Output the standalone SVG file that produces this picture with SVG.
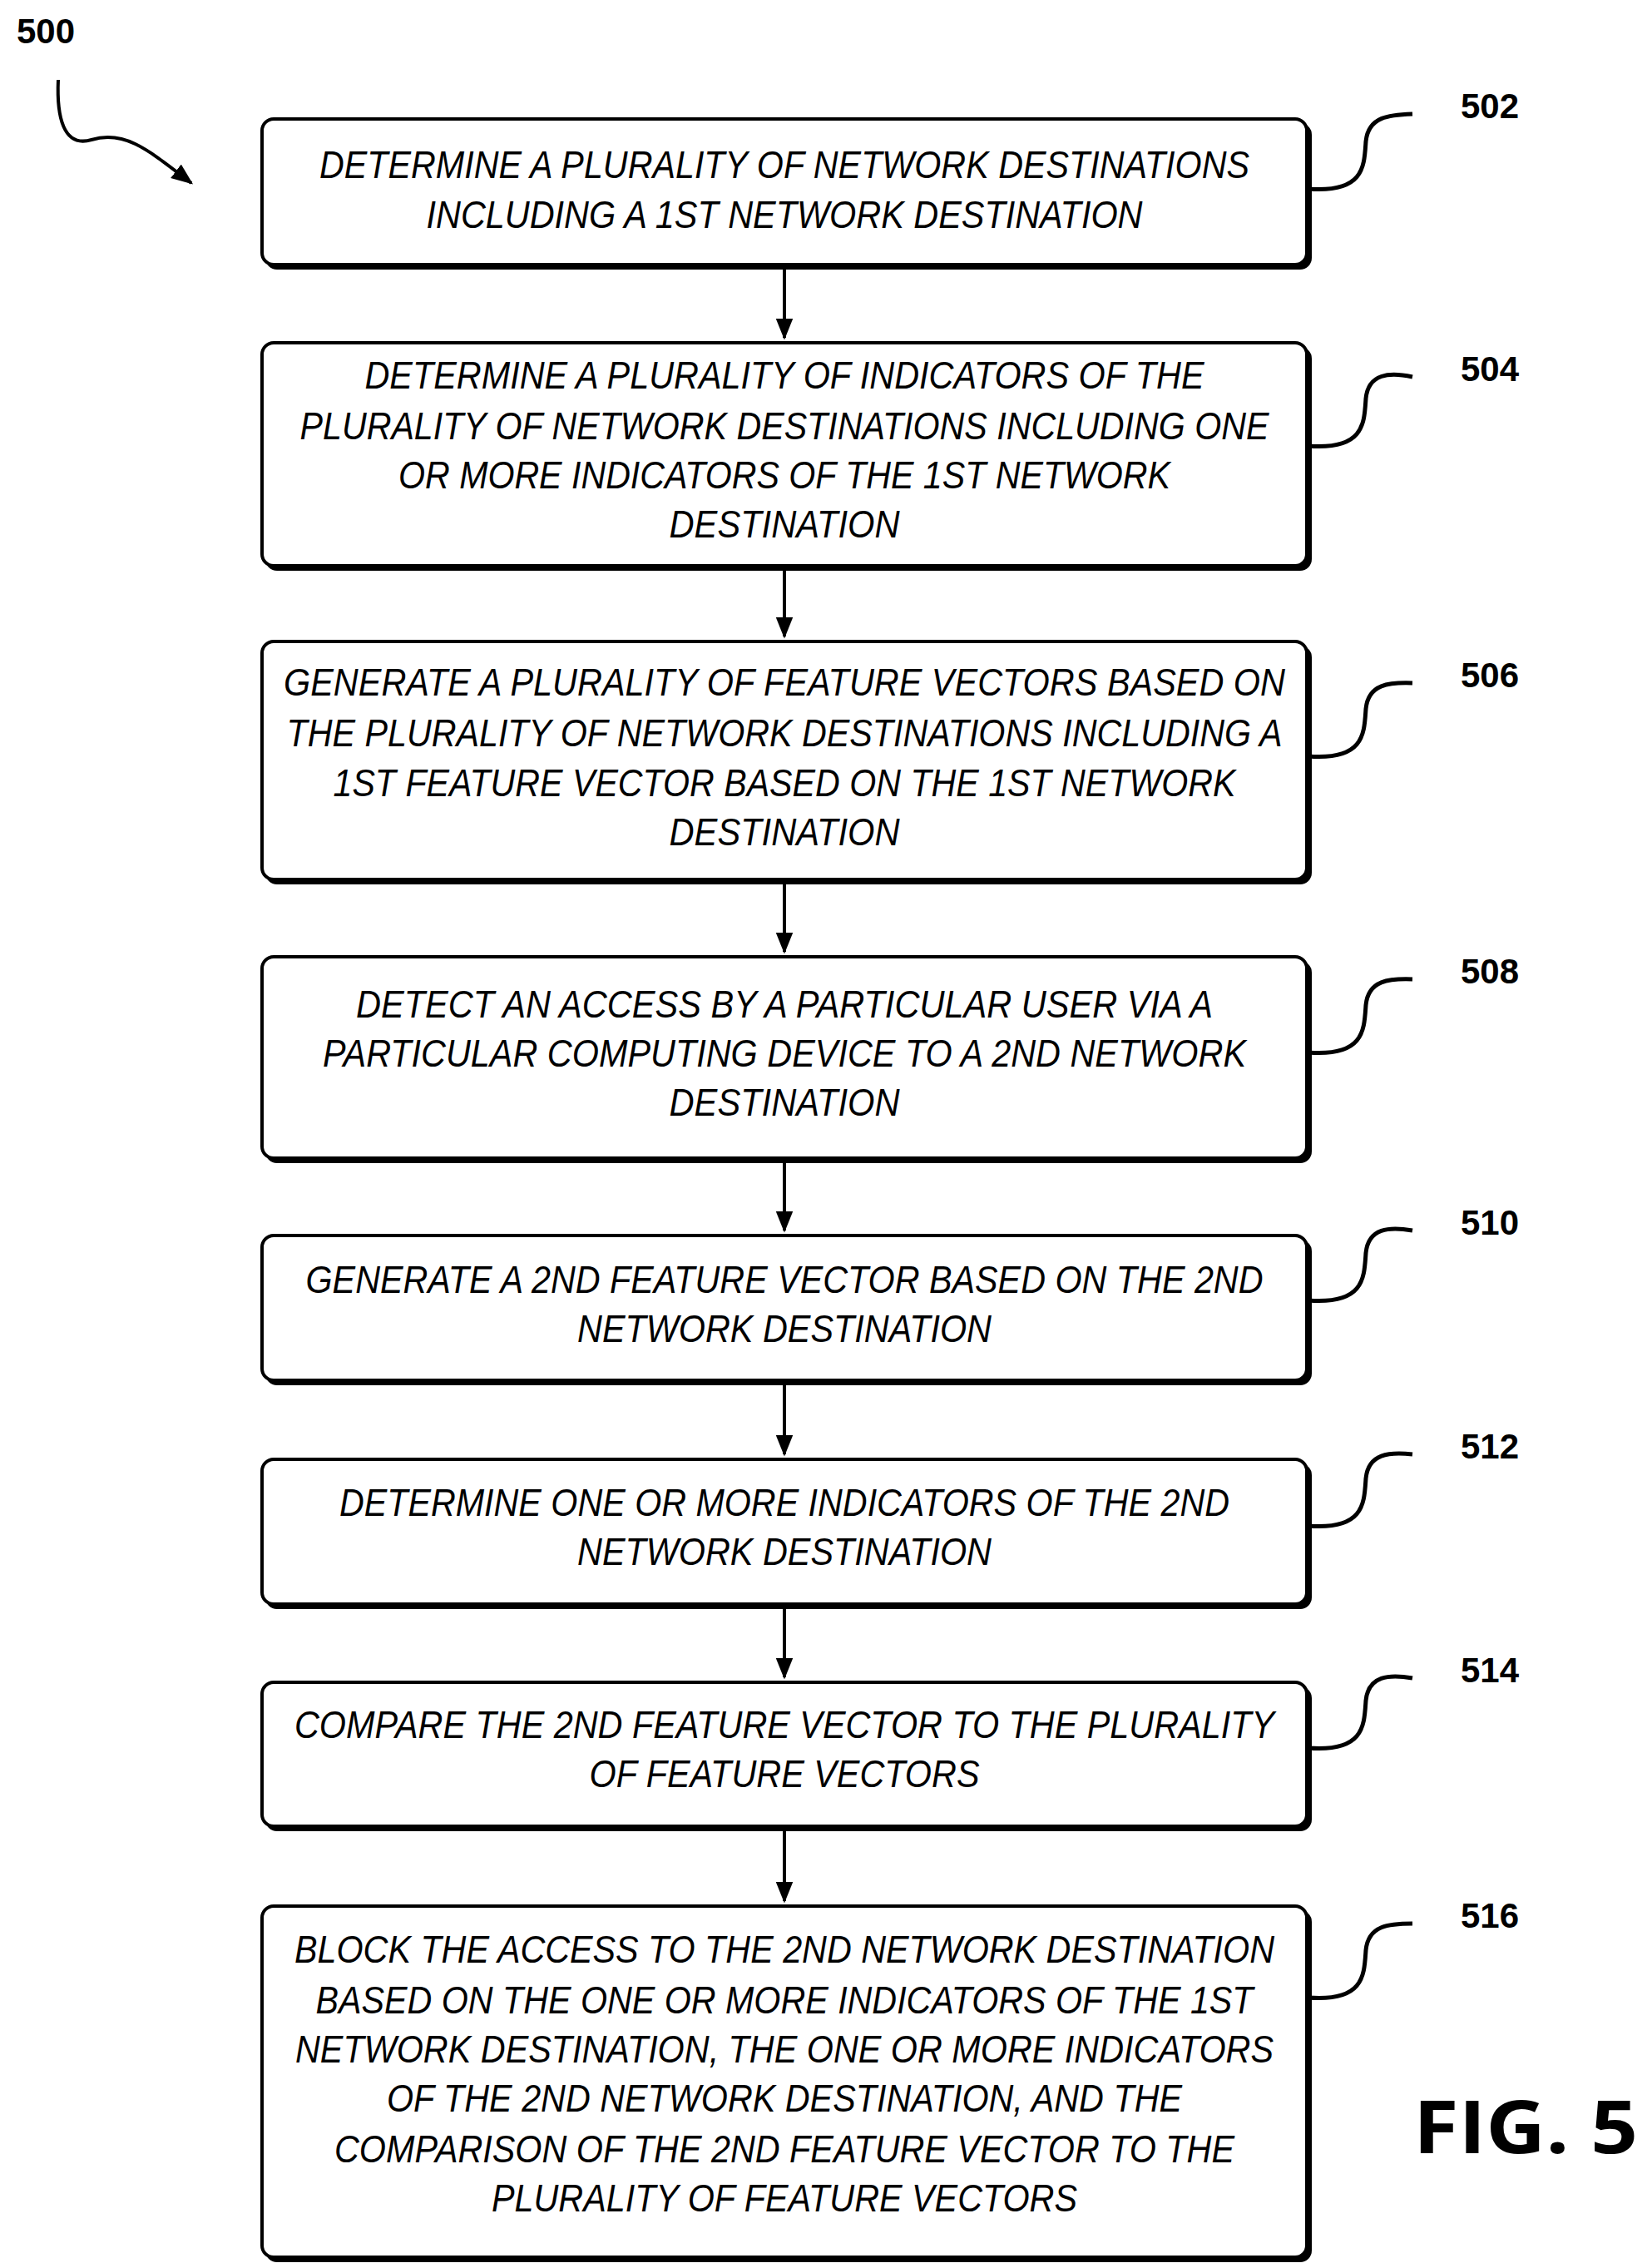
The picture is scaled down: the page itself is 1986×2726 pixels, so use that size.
<svg xmlns="http://www.w3.org/2000/svg" width="1986" height="2726" viewBox="0 0 1986 2726">
<style>
.b{fill:#fff;stroke:#000;stroke-width:4}
.s{fill:#000}
.t{font-family:"Liberation Sans",Arial,sans-serif;font-style:italic;font-size:46px;text-anchor:middle;fill:#000}
.r{font-family:"Liberation Sans",Arial,sans-serif;font-weight:bold;font-size:42px;fill:#000}
.c{fill:none;stroke:#000;stroke-width:4}
.l{fill:none;stroke:#000;stroke-width:5}
</style>
<defs>
<marker id="a" markerWidth="10" markerHeight="10" refX="9" refY="5" orient="auto" markerUnits="userSpaceOnUse" viewBox="0 0 10 10"><path d="M0,0 L10,5 L0,10 z"/></marker>
<marker id="ah" viewBox="0 0 10 10" refX="9" refY="5" markerWidth="26" markerHeight="26" orient="auto" markerUnits="userSpaceOnUse"><path d="M0,1 L10,5 L0,9 z"/></marker>
</defs>
<text class="r" x="20" y="52">500</text>
<path class="c" d="M70,96 C68,140 76,178 110,168 C150,156 178,180 230,220" marker-end="url(#ah)"/>
<g id="connectors">
<path class="c" d="M943,320 V406" marker-end="url(#ah)"/>
<path class="c" d="M943,682 V765" marker-end="url(#ah)"/>
<path class="c" d="M943,1059 V1144" marker-end="url(#ah)"/>
<path class="c" d="M943,1394 V1479" marker-end="url(#ah)"/>
<path class="c" d="M943,1661 V1748" marker-end="url(#ah)"/>
<path class="c" d="M943,1930 V2016" marker-end="url(#ah)"/>
<path class="c" d="M943,2197 V2285" marker-end="url(#ah)"/>
</g>
<g id="n502">
<rect class="s" x="319" y="148" width="1258" height="176" rx="14"/>
<rect class="b" x="315" y="143" width="1256" height="175" rx="14"/>
<text class="t" x="943" y="214" textLength="1118" lengthAdjust="spacingAndGlyphs">DETERMINE A PLURALITY OF NETWORK DESTINATIONS</text>
<text class="t" x="943" y="274" textLength="861" lengthAdjust="spacingAndGlyphs">INCLUDING A 1ST NETWORK DESTINATION</text>
<path class="l" d="M1573,227 C1640,232 1640,200 1642,170 C1645,140 1670,138 1698,137"/>
<text class="r" x="1756" y="142">502</text>
</g>
<g id="n504">
<rect class="s" x="319" y="417" width="1258" height="269" rx="14"/>
<rect class="b" x="315" y="412" width="1256" height="268" rx="14"/>
<text class="t" x="943" y="467" textLength="1009" lengthAdjust="spacingAndGlyphs">DETERMINE A PLURALITY OF INDICATORS OF THE</text>
<text class="t" x="943" y="528" textLength="1165" lengthAdjust="spacingAndGlyphs">PLURALITY OF NETWORK DESTINATIONS INCLUDING ONE</text>
<text class="t" x="943" y="587" textLength="928" lengthAdjust="spacingAndGlyphs">OR MORE INDICATORS OF THE 1ST NETWORK</text>
<text class="t" x="943" y="646" textLength="277" lengthAdjust="spacingAndGlyphs">DESTINATION</text>
<path class="l" d="M1573,536 C1640,541 1640,509 1642,479 C1645,449 1670,447 1698,453"/>
<text class="r" x="1756" y="458">504</text>
</g>
<g id="n506">
<rect class="s" x="319" y="776" width="1258" height="287" rx="14"/>
<rect class="b" x="315" y="771" width="1256" height="286" rx="14"/>
<text class="t" x="943" y="836" textLength="1204" lengthAdjust="spacingAndGlyphs">GENERATE A PLURALITY OF FEATURE VECTORS BASED ON</text>
<text class="t" x="943" y="897" textLength="1197" lengthAdjust="spacingAndGlyphs">THE PLURALITY OF NETWORK DESTINATIONS INCLUDING A</text>
<text class="t" x="943" y="957" textLength="1085" lengthAdjust="spacingAndGlyphs">1ST FEATURE VECTOR BASED ON THE 1ST NETWORK</text>
<text class="t" x="943" y="1016" textLength="277" lengthAdjust="spacingAndGlyphs">DESTINATION</text>
<path class="l" d="M1573,909 C1640,914 1640,882 1642,852 C1645,822 1670,820 1698,821"/>
<text class="r" x="1756" y="826">506</text>
</g>
<g id="n508">
<rect class="s" x="319" y="1155" width="1258" height="243" rx="14"/>
<rect class="b" x="315" y="1150" width="1256" height="242" rx="14"/>
<text class="t" x="943" y="1223" textLength="1030" lengthAdjust="spacingAndGlyphs">DETECT AN ACCESS BY A PARTICULAR USER VIA A</text>
<text class="t" x="943" y="1282" textLength="1110" lengthAdjust="spacingAndGlyphs">PARTICULAR COMPUTING DEVICE TO A 2ND NETWORK</text>
<text class="t" x="943" y="1341" textLength="277" lengthAdjust="spacingAndGlyphs">DESTINATION</text>
<path class="l" d="M1573,1265 C1640,1270 1640,1238 1642,1208 C1645,1178 1670,1176 1698,1177"/>
<text class="r" x="1756" y="1182">508</text>
</g>
<g id="n510">
<rect class="s" x="319" y="1490" width="1258" height="175" rx="14"/>
<rect class="b" x="315" y="1485" width="1256" height="174" rx="14"/>
<text class="t" x="943" y="1554" textLength="1151" lengthAdjust="spacingAndGlyphs">GENERATE A 2ND FEATURE VECTOR BASED ON THE 2ND</text>
<text class="t" x="943" y="1613" textLength="498" lengthAdjust="spacingAndGlyphs">NETWORK DESTINATION</text>
<path class="l" d="M1573,1563 C1640,1568 1640,1536 1642,1506 C1645,1476 1670,1474 1698,1479"/>
<text class="r" x="1756" y="1484">510</text>
</g>
<g id="n512">
<rect class="s" x="319" y="1759" width="1258" height="175" rx="14"/>
<rect class="b" x="315" y="1754" width="1256" height="174" rx="14"/>
<text class="t" x="943" y="1822" textLength="1070" lengthAdjust="spacingAndGlyphs">DETERMINE ONE OR MORE INDICATORS OF THE 2ND</text>
<text class="t" x="943" y="1881" textLength="498" lengthAdjust="spacingAndGlyphs">NETWORK DESTINATION</text>
<path class="l" d="M1573,1834 C1640,1839 1640,1807 1642,1777 C1645,1747 1670,1745 1698,1748"/>
<text class="r" x="1756" y="1753">512</text>
</g>
<g id="n514">
<rect class="s" x="319" y="2027" width="1258" height="174" rx="14"/>
<rect class="b" x="315" y="2022" width="1256" height="173" rx="14"/>
<text class="t" x="943" y="2089" textLength="1178" lengthAdjust="spacingAndGlyphs">COMPARE THE 2ND FEATURE VECTOR TO THE PLURALITY</text>
<text class="t" x="943" y="2148" textLength="469" lengthAdjust="spacingAndGlyphs">OF FEATURE VECTORS</text>
<path class="l" d="M1573,2101 C1640,2106 1640,2074 1642,2044 C1645,2014 1670,2012 1698,2017"/>
<text class="r" x="1756" y="2022">514</text>
</g>
<g id="n516">
<rect class="s" x="319" y="2296" width="1258" height="423" rx="14"/>
<rect class="b" x="315" y="2291" width="1256" height="422" rx="14"/>
<text class="t" x="943" y="2359" textLength="1178" lengthAdjust="spacingAndGlyphs">BLOCK THE ACCESS TO THE 2ND NETWORK DESTINATION</text>
<text class="t" x="943" y="2420" textLength="1127" lengthAdjust="spacingAndGlyphs">BASED ON THE ONE OR MORE INDICATORS OF THE 1ST</text>
<text class="t" x="943" y="2479" textLength="1176" lengthAdjust="spacingAndGlyphs">NETWORK DESTINATION, THE ONE OR MORE INDICATORS</text>
<text class="t" x="943" y="2538" textLength="956" lengthAdjust="spacingAndGlyphs">OF THE 2ND NETWORK DESTINATION, AND THE</text>
<text class="t" x="943" y="2599" textLength="1082" lengthAdjust="spacingAndGlyphs">COMPARISON OF THE 2ND FEATURE VECTOR TO THE</text>
<text class="t" x="943" y="2658" textLength="704" lengthAdjust="spacingAndGlyphs">PLURALITY OF FEATURE VECTORS</text>
<path class="l" d="M1573,2401 C1640,2406 1640,2374 1642,2344 C1645,2314 1670,2312 1698,2312"/>
<text class="r" x="1756" y="2317">516</text>
</g>
<text x="1834" y="2588" style="font-family:'Open Sans','DejaVu Sans',sans-serif;font-weight:bold;font-size:88px;text-anchor:middle" textLength="270" lengthAdjust="spacingAndGlyphs">FIG. 5</text>
</svg>
